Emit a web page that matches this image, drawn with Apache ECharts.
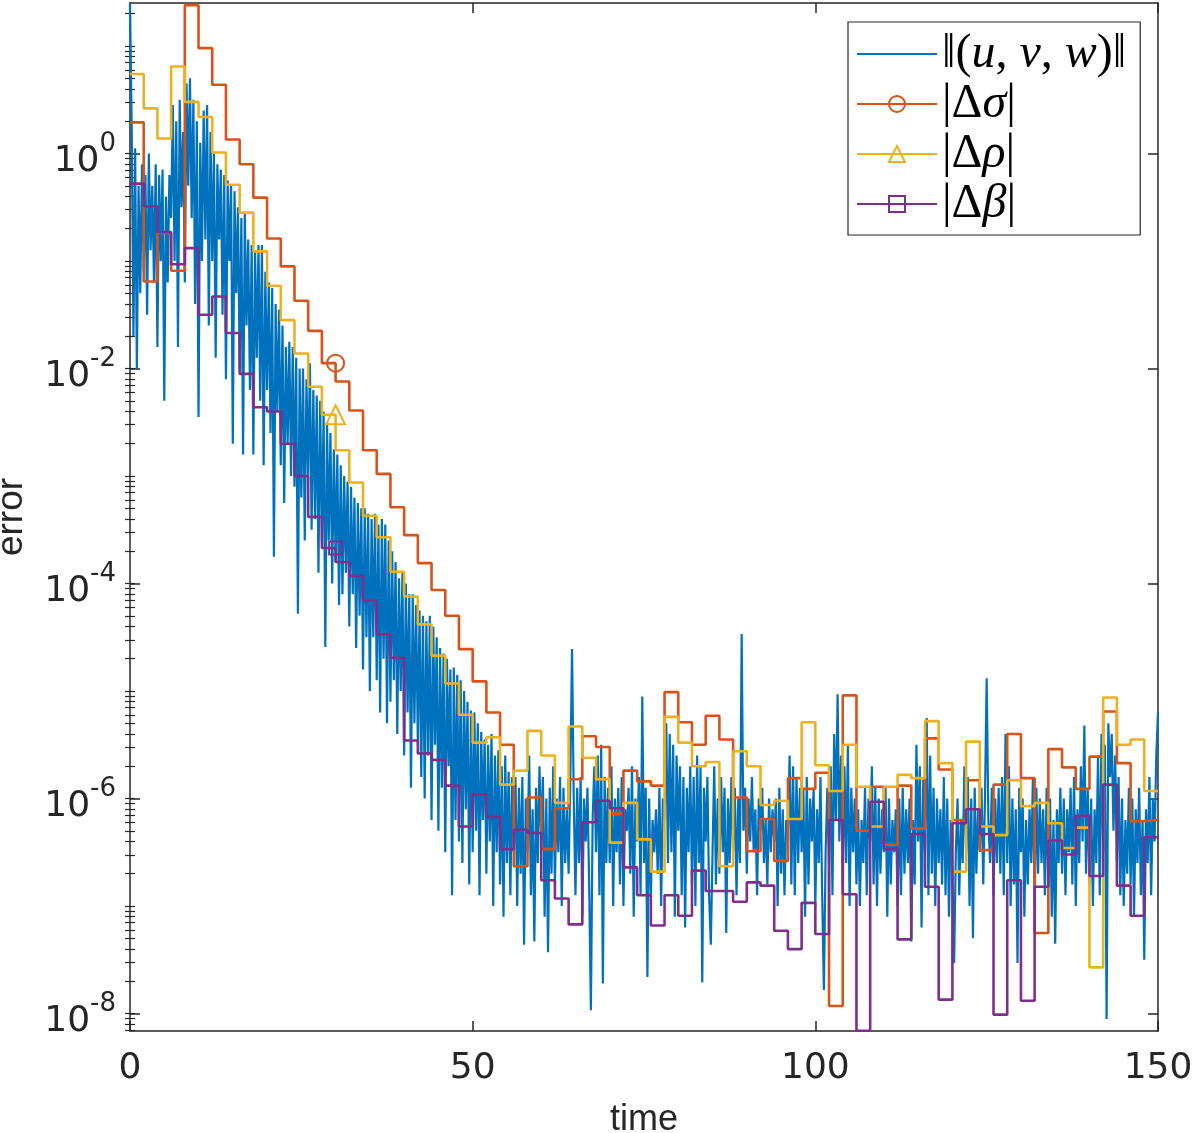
<!DOCTYPE html>
<html>
<head>
<meta charset="utf-8">
<script src="https://cdn.jsdelivr.net/npm/echarts/dist/echarts.min.js"></script>
<style>
  html, body { margin: 0; padding: 0; background: #fff; }
  #chart { width: 1196px; height: 1133px; }
</style>
</head>
<body>
<div id="chart"></div>
<script>
var chart = echarts.init(document.getElementById('chart'));

// ||(u,v,w)||, log10 of the error, one value every 0.25 time units
var blueStep = 0.25;
var blueLog = [
  1.40,0.25,-1.7,0.05, -2.0,-0.3,-1.3,-0.1, -1.1,-0.2,-1.5,0.0, -0.9,-0.3,-1.2,-0.1, -1.8,-0.2,-1.0,-0.15,
  -2.3,-0.4,-1.2,-0.2, -0.6,0.45,-1.0,0.3, -1.8,0.5,-0.5,0.2, -1.2,0.65,-0.3,0.7, -0.6,0.5,-1.4,0.3,
  -2.45,0.1,-1.0,0.4, -0.8,0.45,-1.6,0.2, -1.0,0.0,-1.9,-0.1, -0.8,-0.15,-1.5,-0.2, -2.1,-0.25,-1.0,-0.3,
  -2.7,-0.35,-1.3,-0.5, -2.0,-0.6,-2.8,-0.55, -1.6,-0.8,-2.2,-0.85, -2.8,-0.9,-1.9,-0.85, -2.3,-0.85,-2.9,-1.1,
  -2.2,-1.2,-2.6,-1.25, -3.75,-1.4,-2.4,-1.45, -2.9,-1.6,-3.25,-1.8, -2.7,-1.75,-3.0,-1.8, -3.1,-1.9,-4.28,-2.0,
  -3.2,-2.0,-3.6,-2.1, -3.0,-1.95,-3.5,-2.2, -3.4,-2.25,-3.9,-2.3, -3.6,-2.4,-4.59,-2.5, -3.6,-2.6,-4.0,-2.75,
  -3.8,-2.8,-4.2,-2.9, -4.1,-3.0,-3.9,-3.05, -4.4,-3.1,-4.1,-3.2, -4.6,-3.25,-4.3,-3.3, -4.8,-3.3,-4.5,-3.35,
  -5.0,-3.4,-4.5,-3.35, -4.9,-3.45,-5.2,-3.4, -4.7,-3.45,-5.3,-3.6, -5.1,-3.7,-4.9,-3.8, -5.4,-3.95,-5.0,-3.9,
  -5.6,-4.0,-5.2,-4.1, -5.9,-4.1,-5.3,-4.2, -5.5,-4.25,-5.8,-4.3, -6.0,-4.35,-5.6,-4.3, -6.2,-4.4,-5.5,-4.5,
  -6.3,-4.6,-5.9,-4.65, -6.5,-4.7,-5.7,-4.8, -6.9,-4.78,-6.2,-4.85, -6.4,-4.9,-6.6,-5.0, -6.1,-5.1,-6.8,-5.18,
  -6.5,-5.2,-6.3,-5.3, -6.9,-5.38,-6.2,-5.45, -6.7,-5.5,-6.4,-5.4, -7.0,-5.6,-6.5,-5.55, -6.8,-5.7,-7.1,-5.6,
  -6.6,-5.75,-6.9,-5.8, -6.5,-5.8,-7.0,-5.9, -6.7,-5.8,-7.36,-6.0, -6.5,-5.6,-6.9,-6.1, -7.33,-5.9,-6.6,-5.7,
  -6.4,-5.8,-7.1,-6.0, -7.43,-5.9,-6.7,-5.7, -6.8,-6.0,-6.5,-5.8, -7.0,-5.9,-6.6,-6.1, -6.7,-5.8,-4.61,-6.0,
  -6.9,-5.9,-6.6,-5.8, -7.1,-6.0,-6.4,-5.9, -6.8,-7.97,-6.2,-5.7, -6.5,-5.6,-6.9,-5.5, -7.72,-5.8,-6.6,-5.9,
  -6.6,-5.7,-7.0,-6.0, -6.5,-5.9,-6.8,-5.8, -7.0,-6.1,-6.3,-5.9, -6.7,-5.7,-7.1,-6.0, -6.4,-5.8,-6.9,-5.05,
  -6.6,-5.9,-7.66,-6.0, -6.9,-6.2,-6.5,-6.1, -6.7,-5.9,-7.0,-6.0, -6.2,-5.3,-6.6,-5.4, -6.5,-5.5,-7.1,-5.6,
  -6.3,-5.7,-6.9,-5.8, -7.2,-5.9,-6.5,-5.7, -6.8,-5.8,-7.0,-5.6, -6.6,-5.7,-7.71,-5.9, -6.4,-5.8,-6.9,-7.36,
  -6.5,-5.7,-6.8,-6.0, -6.7,-5.8,-6.5,-5.9, -7.25,-6.0,-6.6,-5.8, -6.5,-5.9,-6.9,-6.0, -6.6,-4.47,-6.3,-5.9,
  -6.7,-6.0,-6.4,-5.8, -6.5,-6.1,-6.9,-6.0, -6.3,-5.9,-6.6,-6.2, -6.8,-6.0,-6.5,-6.1, -6.4,-6.0,-7.0,-5.9,
  -6.7,-6.1,-6.9,-6.2, -6.3,-5.6,-6.8,-5.7, -6.9,-5.8,-6.6,-5.9, -6.5,-5.9,-7.1,-5.8, -6.8,-6.0,-6.4,-5.9,
  -7.0,-6.1,-6.6,-5.8, -6.9,-7.78,-6.5,-5.9, -6.6,-5.7,-6.9,-5.4, -6.2,-5.03,-6.4,-5.6, -6.8,-5.7,-6.6,-5.5,
  -7.0,-5.9,-6.5,-6.0, -6.8,-6.1,-7.0,-6.2, -6.6,-5.9,-6.9,-6.0, -6.4,-5.7,-6.8,-5.9, -7.0,-6.0,-6.7,-6.1,
  -6.5,-5.9,-7.1,-6.0, -6.8,-6.2,-6.5,-6.1, -7.0,-6.0,-6.9,-5.9, -6.7,-6.1,-6.6,-6.0, -7.33,-6.2,-6.8,-5.5,
  -6.4,-5.7,-7.2,-5.8, -6.5,-5.25,-6.9,-5.6, -6.7,-5.9,-7.0,-6.0, -6.6,-6.1,-6.8,-5.8, -6.9,-6.0,-7.1,-6.2,
  -6.7,-7.53,-6.5,-6.0, -6.9,-6.2,-6.6,-5.7, -6.5,-5.8,-7.0,-6.0, -7.3,-5.9,-6.7,-6.1, -6.5,-5.9,-6.8,-6.0,
  -4.88,-6.2,-6.6,-5.9, -6.9,-6.0,-6.6,-5.9, -6.7,-5.8,-6.9,-5.4, -6.6,-5.7,-7.0,-6.0, -6.8,-6.1,-7.53,-5.9,
  -6.5,-6.0,-7.1,-6.2, -6.8,-6.1,-6.6,-5.8, -7.0,-5.9,-6.7,-6.0, -6.6,-6.1,-6.9,-5.9, -6.8,-6.0,-7.1,-6.2,
  -7.35,-6.1,-6.6,-5.9, -6.7,-6.0,-6.9,-6.1, -6.5,-5.9,-6.8,-5.8, -7.0,-6.1,-6.6,-5.7, -6.4,-5.32,-6.7,-5.9,
  -6.8,-6.0,-7.0,-6.1, -6.6,-5.6,-6.9,-5.4, -6.5,-5.5,-8.05,-5.3, -5.8,-5.4,-6.3,-5.6, -6.6,-5.8,-6.9,-6.0,
  -7.0,-6.2,-6.7,-5.9, -6.8,-6.0,-7.1,-6.1, -6.6,-5.9,-6.9,-6.2, -7.5,-6.1,-6.6,-5.8, -6.9,-6.0,-6.4,-5.6,
  -5.2
];

// parameter errors, log10, one value held per 2-unit interval [0,2), [2,4), ... [148,150]
var stepWidth = 2;
var sigmaLog = [
  0.29,-1.19,-0.74,-1.09,1.38,0.98,0.64,0.13,-0.10,-0.41,
  -0.79,-1.05,-1.37,-1.65,-1.95,-2.12,-2.39,-2.76,-2.98,-3.29,
  -3.55,-3.81,-4.06,-4.30,-4.61,-4.91,-5.20,-5.50,-6.63,-5.99,
  -6.47,-6.09,-5.82,-5.42,-5.52,-6.14,-5.74,-5.84,-5.88,-5.01,
  -5.29,-5.50,-5.23,-5.45,-5.99,-6.49,-6.19,-6.58,-5.81,-5.91,
  -5.76,-7.93,-5.04,-6.30,-5.89,-6.43,-5.88,-6.28,-5.44,-5.73,
  -6.20,-5.83,-6.48,-5.87,-5.40,-5.81,-7.25,-5.54,-5.71,-5.91,
  -5.61,-5.19,-5.67,-6.21,-6.20
];
var rhoLog = [
  0.74,0.42,0.14,0.81,0.48,0.34,0.01,-0.29,-0.55,-0.91,
  -1.23,-1.55,-1.86,-2.17,-2.43,-2.76,-3.06,-3.37,-3.57,-3.89,
  -4.12,-4.38,-4.67,-4.93,-5.22,-5.48,-5.43,-5.87,-5.74,-5.37,
  -5.60,-6.04,-5.33,-5.62,-5.82,-6.41,-6.04,-6.38,-6.68,-5.24,
  -5.48,-5.70,-5.66,-6.63,-5.56,-5.70,-6.06,-6.02,-6.19,-5.29,
  -5.69,-5.93,-5.50,-5.89,-6.26,-5.89,-5.78,-5.81,-5.28,-5.67,
  -6.68,-5.47,-6.26,-6.34,-5.83,-6.07,-6.04,-6.23,-6.46,-6.27,
  -7.57,-5.06,-5.50,-5.45,-5.93
];
var betaLog = [
  -0.28,-0.49,-0.73,-1.03,-0.88,-1.50,-1.33,-1.67,-2.05,-2.36,
  -2.40,-2.70,-3.00,-3.38,-3.67,-3.80,-3.93,-4.16,-4.47,-4.69,
  -5.46,-5.58,-5.64,-5.88,-6.26,-5.96,-6.17,-6.47,-6.29,-6.32,
  -6.76,-6.93,-7.17,-6.22,-6.02,-6.09,-6.64,-6.90,-7.18,-6.90,
  -7.09,-6.67,-6.86,-6.86,-6.96,-6.78,-6.81,-7.23,-7.40,-6.97,
  -7.26,-6.20,-6.89,-8.16,-6.03,-6.47,-7.31,-6.33,-6.82,-7.87,
  -6.23,-6.10,-6.33,-8.01,-6.76,-7.88,-6.82,-6.39,-6.52,-6.16,
  -6.72,-5.87,-6.81,-7.09,-6.36
];

var markerTime = 30;
var xMin = 0, xMax = 150, xInterval = 50;
var yLogMin = -8.162, yLogMax = 1.40;
var yTickLabels = [1e-8, 1e-6, 1e-4, 1e-2, 1];

var seriesNames = ['‖(u, v, w)‖', '|Δσ|', '|Δρ|', '|Δβ|'];
var seriesColors = ['#0072BD', '#D95319', '#EDB120', '#7E2F8E'];

var axisColor = '#262626';
var tickFont = '"DejaVu Sans", Verdana, sans-serif';
var nameFont = '"Liberation Sans", Arial, Helvetica, sans-serif';
var serifFont = '"Liberation Serif", "DejaVu Serif", serif';

var yMin = Math.pow(10, yLogMin);
var yMax = Math.pow(10, yLogMax);

// minor ticks 1..9 x 10^n inside the range
var minorTicks = [];
for (var n = -9; n <= 1; n++) {
  for (var k = 1; k <= 9; k++) {
    var v = k * Math.pow(10, n);
    if (v >= yMin && v <= yMax) minorTicks.push(v);
  }
}

var blueData = blueLog.map(function (e, i) {
  return [i * blueStep, Math.pow(10, e)];
});

// stairs: value of interval k is held up to its right edge
function stairs(logs) {
  var pts = [[0, Math.pow(10, logs[0])]];
  for (var i = 0; i < logs.length; i++) {
    pts.push([(i + 1) * stepWidth, Math.pow(10, logs[i])]);
  }
  return pts;
}

function stairSeries(idx, logs, symbol, size) {
  var markerIdx = markerTime / stepWidth;
  var color = seriesColors[idx];
  return {
    name: seriesNames[idx],
    type: 'line',
    step: 'start',
    data: stairs(logs),
    symbol: symbol,
    showSymbol: true,
    showAllSymbol: true,
    symbolSize: function (val, params) {
      return params.dataIndex === markerIdx ? size : 0;
    },
    color: color,
    lineStyle: { color: color, width: 2.6 },
    itemStyle: { color: 'rgba(0,0,0,0)', borderColor: color, borderWidth: 2 },
    emphasis: { disabled: true },
    z: 3 + idx
  };
}

function yLabel(value) {
  var e = Math.round(Math.log(value) / Math.LN10);
  return '{b|10}{s|' + e + '}';
}

var legendText = {};
legendText[seriesNames[0]] = '{n|‖(}{i|u}{n|, }{i|v}{n|, }{i|w}{n|)‖}';
legendText[seriesNames[1]] = '{n||Δ}{i|σ}{n||}';
legendText[seriesNames[2]] = '{n||Δ}{i|ρ}{n||}';
legendText[seriesNames[3]] = '{n||Δ}{i|β}{n||}';

function yAxisBase(position) {
  return {
    type: 'log',
    logBase: 10,
    min: yMin,
    max: yMax,
    position: position,
    splitLine: { show: false },
    axisLine: { show: true, onZero: false, lineStyle: { color: axisColor, width: 1.5 } },
    axisLabel: { show: false },
    axisPointer: { show: false }
  };
}

var yMajorLeft = yAxisBase('left');
yMajorLeft.name = 'error';
yMajorLeft.nameLocation = 'middle';
yMajorLeft.nameRotate = 90;
yMajorLeft.nameGap = 100;
yMajorLeft.nameTextStyle = { fontSize: 37, color: axisColor, fontFamily: nameFont };
yMajorLeft.axisTick = { inside: true, length: 10, customValues: yTickLabels, lineStyle: { color: axisColor, width: 1.5 } };
yMajorLeft.axisLabel = {
  show: true,
  customValues: yTickLabels,
  formatter: yLabel,
  margin: 14,
  padding: [16, 0, 0, 0],
  color: axisColor,
  rich: {
    b: { fontSize: 36, fontFamily: tickFont, color: axisColor, lineHeight: 60 },
    s: { fontSize: 26, fontFamily: tickFont, color: axisColor, lineHeight: 26, verticalAlign: 'top' }
  }
};

var yMinorLeft = yAxisBase('left');
yMinorLeft.axisLine = { show: false };
yMinorLeft.axisTick = { inside: true, length: 5, customValues: minorTicks, lineStyle: { color: axisColor, width: 1.2 } };

var yMajorRight = yAxisBase('right');
yMajorRight.axisTick = { inside: true, length: 10, customValues: yTickLabels, lineStyle: { color: axisColor, width: 1.5 } };

var yMinorRight = yAxisBase('right');
yMinorRight.axisLine = { show: false };
yMinorRight.axisTick = { inside: true, length: 5, customValues: minorTicks, lineStyle: { color: axisColor, width: 1.2 } };

var option = {
  animation: false,
  backgroundColor: '#fff',
  grid: { left: 130, right: 38, top: 3, bottom: 102, containLabel: false, outerBoundsMode: 'none' },
  legend: {
    orient: 'vertical',
    left: 848,
    top: 22,
    itemWidth: 80,
    itemHeight: 20,
    itemGap: 2,
    padding: [8, 14, 7, 8],
    borderColor: axisColor,
    borderWidth: 1.2,
    backgroundColor: '#fff',
    selectedMode: false,
    formatter: function (name) { return legendText[name]; },
    textStyle: {
      color: '#000',
      rich: {
        n: { fontFamily: serifFont, fontSize: 48, lineHeight: 48, color: '#000' },
        i: { fontFamily: serifFont, fontSize: 48, lineHeight: 48, fontStyle: 'italic', color: '#000' }
      }
    },
    data: [
      { name: seriesNames[0], itemStyle: { color: 'rgba(0,0,0,0)', borderWidth: 0 } },
      { name: seriesNames[1], itemStyle: { color: 'rgba(0,0,0,0)', borderColor: seriesColors[1], borderWidth: 2 } },
      { name: seriesNames[2], itemStyle: { color: 'rgba(0,0,0,0)', borderColor: seriesColors[2], borderWidth: 2 } },
      { name: seriesNames[3], itemStyle: { color: 'rgba(0,0,0,0)', borderColor: seriesColors[3], borderWidth: 2 } }
    ]
  },
  xAxis: [
    {
      type: 'value',
      min: xMin,
      max: xMax,
      interval: xInterval,
      position: 'bottom',
      name: 'time',
      nameLocation: 'middle',
      nameGap: 71,
      nameTextStyle: { fontSize: 36, color: axisColor, fontFamily: nameFont },
      splitLine: { show: false },
      axisLine: { show: true, onZero: false, lineStyle: { color: axisColor, width: 1.5 } },
      axisTick: { inside: true, length: 10, lineStyle: { color: axisColor, width: 1.5 } },
      axisLabel: { fontSize: 36, color: axisColor, fontFamily: tickFont, margin: 20 }
    },
    {
      type: 'value',
      min: xMin,
      max: xMax,
      interval: xInterval,
      position: 'top',
      splitLine: { show: false },
      axisLine: { show: true, onZero: false, lineStyle: { color: axisColor, width: 1.5 } },
      axisTick: { inside: true, length: 10, lineStyle: { color: axisColor, width: 1.5 } },
      axisLabel: { show: false }
    }
  ],
  yAxis: [yMajorLeft, yMinorLeft, yMajorRight, yMinorRight],
  series: [
    {
      name: seriesNames[0],
      type: 'line',
      data: blueData,
      symbol: 'none',
      color: seriesColors[0],
      lineStyle: { color: seriesColors[0], width: 2.2 },
      emphasis: { disabled: true },
      z: 2
    },
    stairSeries(1, sigmaLog, 'circle', 17),
    stairSeries(2, rhoLog, 'triangle', 19),
    stairSeries(3, betaLog, 'rect', 13)
  ]
};

chart.setOption(option);
</script>
</body>
</html>
